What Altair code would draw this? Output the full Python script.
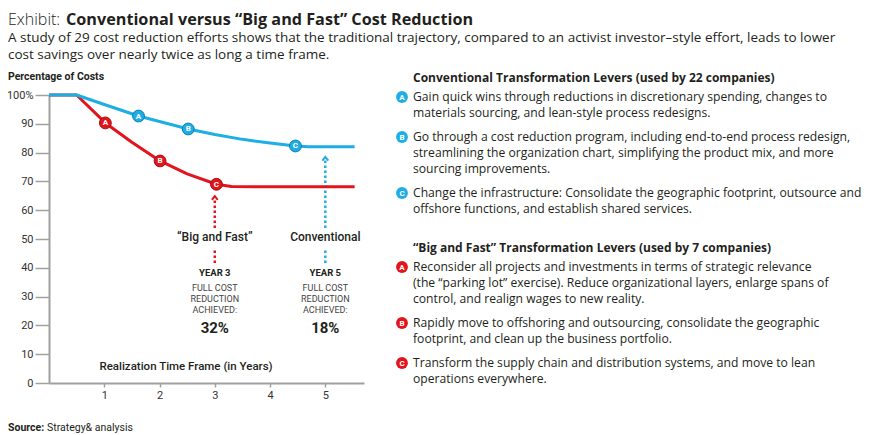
import altair as alt
import pandas as pd

# ---------------- data ----------------
red_years = [0, 0.5, 1.02, 1.5, 2.01, 2.5, 3.03, 3.3, 5.53]
red_costs = [100, 100, 90.3, 83.6, 77.1, 72.6, 69.0, 68.2, 68.1]
blue_years = [0, 0.5, 1.0, 1.62, 2.0, 2.52, 3.0, 3.5, 4.0, 4.46, 4.7, 5.53]
blue_costs = [100, 100, 96.7, 92.7, 90.8, 88.2, 86.3, 84.6, 83.3, 82.3, 82.0, 82.0]

marker_letters = ["A", "B", "C"]
red_marker_years = [1.02, 2.01, 3.03]
red_marker_costs = [90.3, 77.1, 69.0]
blue_marker_years = [1.62, 2.52, 4.46]
blue_marker_costs = [92.7, 88.2, 82.3]

ann_years = [3, 5]
ann_names = ["\u201cBig and Fast\u201d", "Conventional"]
ann_year_text = ["YEAR 3", "YEAR 5"]
ann_lines = ["FULL COST", "REDUCTION", "ACHIEVED:"]
ann_pct = ["32%", "18%"]
arrow_tips = [64.9, 78.5]

x_ticks = [1, 2, 3, 4, 5]
y_ticks = [0, 10, 20, 30, 40, 50, 60, 70, 80, 90, 100]

title_light = "Exhibit:"
title_bold = "Conventional versus \u201cBig and Fast\u201d Cost Reduction"
subtitle = [
    "A study of 29 cost reduction efforts shows that the traditional trajectory, compared to an activist investor\u2013style effort, leads to lower",
    "cost savings over nearly twice as long a time frame.",
]
y_title = "Percentage of Costs"
x_title = "Realization Time Frame (in Years)"
source_bold = "Source:"
source_text = "Strategy& analysis"

conv_header = "Conventional Transformation Levers (used by 22 companies)"
conv_items = [
    ["Gain quick wins through reductions in discretionary spending, changes to",
     "materials sourcing, and lean-style process redesigns."],
    ["Go through a cost reduction program, including end-to-end process redesign,",
     "streamlining the organization chart, simplifying the product mix, and more",
     "sourcing improvements."],
    ["Change the infrastructure: Consolidate the geographic footprint, outsource and",
     "offshore functions, and establish shared services."],
]
big_header = "\u201cBig and Fast\u201d Transformation Levers (used by 7 companies)"
big_items = [
    ["Reconsider all projects and investments in terms of strategic relevance",
     "(the \u201cparking lot\u201d exercise). Reduce organizational layers, enlarge spans of",
     "control, and realign wages to new reality."],
    ["Rapidly move to offshoring and outsourcing, consolidate the geographic",
     "footprint, and clean up the business portfolio."],
    ["Transform the supply chain and distribution systems, and move to lean",
     "operations everywhere."],
]

# ---------------- styling / layout ----------------
RED = "#e2141c"
RED_DARK = "#a50d13"
BLUE = "#1eaee6"
BLUE_DARK = "#0b80b0"
GRAY = "#a0a0a0"
TXT = "#231f20"
FONT = "Roboto"
FONT2 = "Open Sans"

X_MAX = 5.7
W, H = 315, 288
PAD = {"left": 41, "top": 87, "right": 505, "bottom": 52}
PLOT_LEFT_PAGE, PLOT_TOP_PAGE = 49, 95


def px2year(px):
    return (px - PLOT_LEFT_PAGE) / W * X_MAX


def py2cost(py):
    return 100 - (py - PLOT_TOP_PAGE) / H * 100


xs = alt.Scale(domain=[0, X_MAX], nice=False, zero=False)
ys = alt.Scale(domain=[0, 100], nice=False)

XAX = alt.Axis(
    values=x_ticks, title=None, grid=False, domainColor=GRAY, domainWidth=2,
    tickColor=GRAY, tickWidth=1.5, tickSize=4, labelFont=FONT, labelFontSize=11,
    labelColor="#333", labelPadding=2)
YAX = alt.Axis(
    values=y_ticks, title=None, grid=False, domainColor=GRAY, domainWidth=2,
    tickColor=GRAY, tickWidth=1.5, tickSize=14, labelFont=FONT, labelFontSize=11,
    labelColor="#333", labelPadding=2,
    labelExpr="datum.value == 100 ? '100%' : datum.label")


def X(f):
    return alt.X(f, type="quantitative", scale=xs, axis=XAX)


def Y(f):
    return alt.Y(f, type="quantitative", scale=ys, axis=YAX)


# ---------------- lines ----------------
red_line = alt.Chart(pd.DataFrame({"year": red_years, "cost": red_costs})).mark_line(
    color=RED, strokeWidth=3, strokeJoin="round").encode(x=X("year"), y=Y("cost"))
blue_line = alt.Chart(pd.DataFrame({"year": blue_years, "cost": blue_costs})).mark_line(
    color=BLUE, strokeWidth=3, strokeJoin="round").encode(x=X("year"), y=Y("cost"))

# ---------------- markers ----------------
mk_df = pd.concat([
    pd.DataFrame({"year": red_marker_years, "cost": red_marker_costs, "l": marker_letters,
                  "fill": RED, "stroke": RED_DARK}),
    pd.DataFrame({"year": blue_marker_years, "cost": blue_marker_costs, "l": marker_letters,
                  "fill": BLUE, "stroke": BLUE_DARK}),
])
markers = alt.Chart(mk_df).mark_point(filled=True, size=140, opacity=1, strokeWidth=1).encode(
    x=X("year"), y=Y("cost"),
    fill=alt.Fill("fill:N", scale=None), stroke=alt.Stroke("stroke:N", scale=None))
marker_txt = alt.Chart(mk_df).mark_text(font=FONT, fontSize=8, fontWeight="bold",
                                        color="white", baseline="middle", dy=0.5).encode(
    x=X("year"), y=Y("cost"), text="l:N")

# ---------------- dotted arrows ----------------
seg_rows = []
for yr, tip, col in zip(ann_years, arrow_tips, [RED, BLUE]):
    seg_rows.append({"year": yr, "y1": py2cost(263), "y2": py2cost(248), "c": col})
    seg_rows.append({"year": yr, "y1": py2cost(228), "y2": tip - 1.0, "c": col})
seg_df = pd.DataFrame(seg_rows)
segs = alt.Chart(seg_df).mark_rule(strokeWidth=2.5, strokeDash=[2.5, 2.5]).encode(
    x=X("year"), y=Y("y1"), y2="y2", color=alt.Color("c:N", scale=None))
tips_df = pd.DataFrame({"year": ann_years, "cost": arrow_tips, "c": [RED, BLUE]})
tips = alt.Chart(tips_df).mark_point(shape="M-0.7,0.9L0,0L0.7,0.9", size=70, filled=False,
                                     strokeWidth=2, opacity=1).encode(
    x=X("year"), y=Y("cost"), stroke=alt.Stroke("c:N", scale=None))

# ---------------- annotations in plot ----------------
ann_rows = []
for yr, nm, yt, pct in zip(ann_years, ann_names, ann_year_text, ann_pct):
    ann_rows.append({"year": yr, "cost": py2cost(237), "t": nm, "k": "name"})
    ann_rows.append({"year": yr, "cost": py2cost(273), "t": yt, "k": "year"})
    for i, ln in enumerate(ann_lines):
        ann_rows.append({"year": yr, "cost": py2cost(288 + 11 * i), "t": ln, "k": "small"})
    ann_rows.append({"year": yr, "cost": py2cost(328), "t": pct, "k": "pct"})
ann_df = pd.DataFrame(ann_rows)


def ann_layer(kind, size, weight, color=TXT):
    return alt.Chart(ann_df).transform_filter(alt.datum.k == kind).mark_text(
        font=FONT, fontSize=size, fontWeight=weight, color=color, baseline="middle",
        align="center").encode(x=X("year"), y=Y("cost"), text="t:N")


ann_name = ann_layer("name", 12, 500)
ann_year = ann_layer("year", 9.5, "bold")
ann_small = ann_layer("small", 9, "normal", "#444")
ann_pctl = ann_layer("pct", 15, "bold")

xt_df = pd.DataFrame({"year": [px2year(186)], "cost": [py2cost(367)], "t": [x_title]})
x_title_layer = alt.Chart(xt_df).mark_text(font=FONT, fontSize=11.5, fontWeight=500,
                                           color=TXT, baseline="middle").encode(
    x=X("year"), y=Y("cost"), text="t:N")

# ---------------- texts outside plot ----------------
LEFT = 8
out_rows = [
    {"px": LEFT, "py": 19.5, "t": title_light, "k": "tl"},
    {"px": 66, "py": 19.5, "t": title_bold, "k": "tb"},
    {"px": LEFT, "py": 37.5, "t": subtitle[0], "k": "sub"},
    {"px": LEFT, "py": 55, "t": subtitle[1], "k": "sub"},
    {"px": LEFT, "py": 77, "t": y_title, "k": "hdr_s"},
    {"px": LEFT, "py": 428, "t": source_bold, "k": "hdr_s"},
    {"px": LEFT + 39, "py": 428, "t": source_text, "k": "src"},
]
bullets = []
TEXT_X, BUL_X = 413, 402


def section(header, items, start, color):
    y = start
    out_rows.append({"px": TEXT_X, "py": y, "t": header, "k": "hdr"})
    y += 19
    for letter, item in zip(marker_letters, items):
        bullets.append({"px": BUL_X, "py": y, "l": letter, "c": color})
        for ln in item:
            out_rows.append({"px": TEXT_X, "py": y, "t": ln, "k": "body"})
            y += 16
        y += 8


section(conv_header, conv_items, 78, BLUE)
section(big_header, big_items, 248, RED)

out_df = pd.DataFrame(out_rows)
out_df["year"] = out_df["px"].map(px2year)
out_df["cost"] = out_df["py"].map(py2cost)


def out_layer(kind, size, weight, font=FONT2, color=TXT):
    return alt.Chart(out_df).transform_filter(alt.datum.k == kind).mark_text(
        font=font, fontSize=size, fontWeight=weight, color=color, baseline="middle",
        align="left").encode(x=X("year"), y=Y("cost"), text="t:N")


t_light = out_layer("tl", 16, 300)
t_bold = out_layer("tb", 16.2, "bold")
t_sub = out_layer("sub", 13.5, "normal")
t_hdr_s = out_layer("hdr_s", 10.5, "bold", FONT)
t_src = out_layer("src", 10.5, "normal", FONT)
t_hdr = out_layer("hdr", 12, "bold")
t_body = out_layer("body", 12.15, "normal")

bul_df = pd.DataFrame(bullets)
bul_df["year"] = bul_df["px"].map(px2year)
bul_df["cost"] = bul_df["py"].map(py2cost)
bul = alt.Chart(bul_df).mark_point(filled=True, size=140, opacity=1).encode(
    x=X("year"), y=Y("cost"), fill=alt.Fill("c:N", scale=None))
bul_txt = alt.Chart(bul_df).mark_text(font=FONT, fontSize=8, fontWeight="bold",
                                      color="white", baseline="middle", dy=0.5).encode(
    x=X("year"), y=Y("cost"), text="l:N")

chart = alt.layer(
    segs, tips, red_line, blue_line, markers, marker_txt,
    ann_name, ann_year, ann_small, ann_pctl, x_title_layer,
    t_light, t_bold, t_sub, t_hdr_s, t_src, t_hdr, t_body, bul, bul_txt,
).properties(
    width=W, height=H,
    autosize=alt.AutoSizeParams(type="none"),
    padding=PAD,
    background="white",
).configure_view(stroke=None)

chart.save("out.html", embed_options={"renderer": "svg", "actions": False})
